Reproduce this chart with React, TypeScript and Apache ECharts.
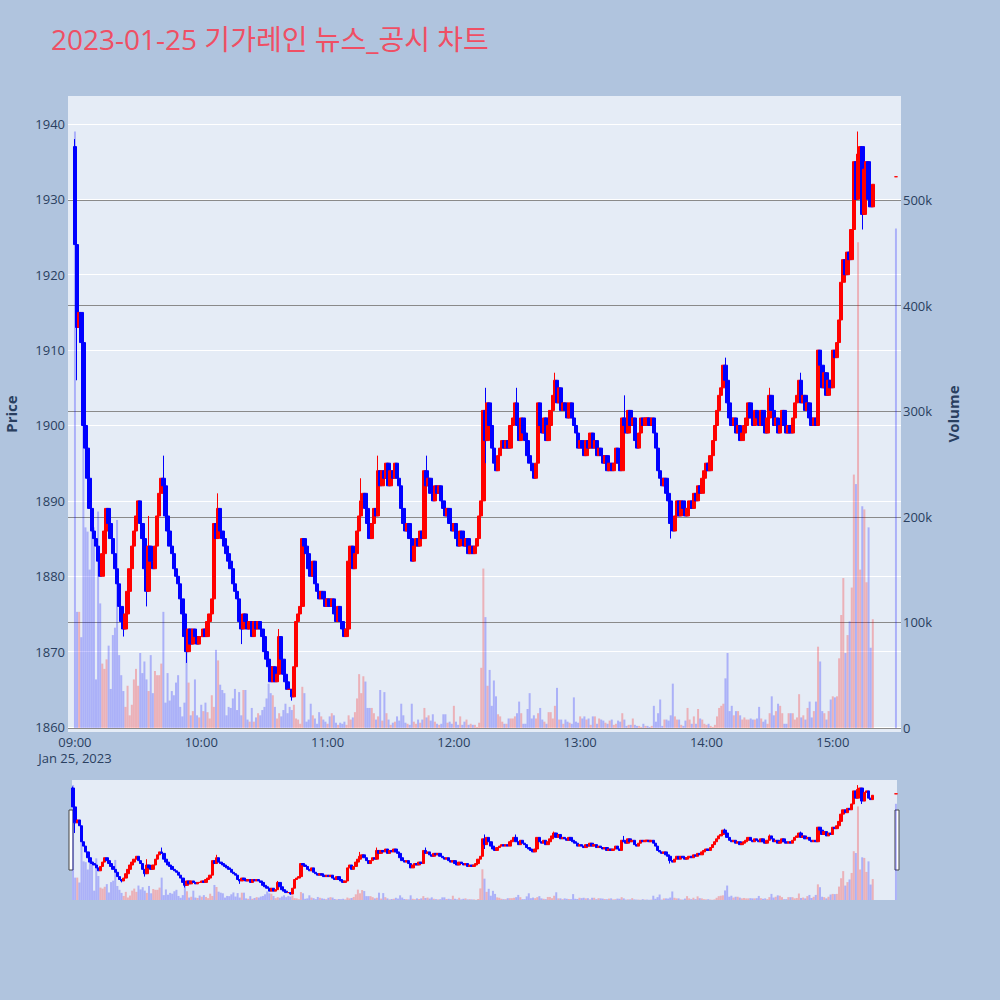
import React, { useEffect, useRef } from "react";
import * as echarts from "echarts";

const chartTitle = "2023-01-25 기가레인 뉴스_공시 차트";
const fontFamily = '"Open Sans", "Noto Sans CJK KR", sans-serif';

// 분 단위 (09:00 = 0)
const hourTicks = [0, 60, 120, 180, 240, 300, 360];
const hourLabels = ["09:00", "10:00", "11:00", "12:00", "13:00", "14:00", "15:00"];
const dateLabel = "Jan 25, 2023";
const priceTicks = [1860, 1870, 1880, 1890, 1900, 1910, 1920, 1930, 1940];
const volumeTicks = [0, 100000, 200000, 300000, 400000, 500000];

// 시가 (첫 봉), 이후 봉의 시가는 직전 종가
const firstOpen = 1937;

// 1분봉 종가 09:00 ~ 15:19
const closes = [
  1924, 1913, 1915, 1911, 1900, 1897, 1893, 1889, 1886, 1885,
  1884, 1882, 1880, 1883, 1886, 1889, 1887, 1885, 1883, 1881,
  1879, 1876, 1874, 1873, 1875, 1878, 1881, 1884, 1886, 1888,
  1890, 1887, 1885, 1881, 1878, 1884, 1882, 1881, 1884, 1888,
  1891, 1893, 1892, 1888, 1886, 1884, 1883, 1881, 1880, 1879,
  1877, 1875, 1872, 1870, 1873, 1871, 1873, 1872, 1871, 1872,
  1872, 1873, 1872, 1874, 1875, 1877, 1887, 1885, 1889, 1886,
  1885, 1884, 1883, 1882, 1881, 1879, 1878, 1877, 1874, 1873,
  1875, 1874, 1873, 1874, 1872, 1874, 1873, 1874, 1873, 1872,
  1870, 1869, 1868, 1866, 1868, 1866, 1867, 1872, 1869, 1867,
  1866, 1865, 1865, 1864, 1868, 1874, 1875, 1876, 1885, 1884,
  1883, 1881, 1880, 1882, 1879, 1878, 1877, 1878, 1877, 1876,
  1877, 1876, 1877, 1875, 1874, 1876, 1874, 1873, 1872, 1873,
  1882, 1884, 1881, 1883, 1886, 1888, 1890, 1891, 1889, 1887,
  1885, 1887, 1889, 1888, 1894, 1892, 1894, 1893, 1895, 1892,
  1894, 1893, 1895, 1893, 1892, 1889, 1887, 1886, 1887, 1885,
  1882, 1884, 1885, 1884, 1886, 1885, 1894, 1892, 1893, 1891,
  1890, 1892, 1891, 1892, 1890, 1889, 1888, 1889, 1887, 1886,
  1887, 1885, 1884, 1886, 1885, 1884, 1885, 1883, 1884, 1883,
  1884, 1885, 1888, 1890, 1902, 1898, 1903, 1900, 1897, 1895,
  1894, 1896, 1897, 1898, 1897, 1898, 1897, 1900, 1901, 1903,
  1900, 1898, 1901, 1899, 1898, 1896, 1895, 1894, 1893, 1895,
  1903, 1900, 1899, 1901, 1898, 1900, 1902, 1904, 1906, 1903,
  1905, 1902, 1903, 1902, 1901, 1903, 1901, 1900, 1899, 1897,
  1898, 1897, 1896, 1898, 1897, 1899, 1897, 1898, 1896, 1897,
  1896, 1895, 1896, 1894, 1895, 1894, 1895, 1897, 1895, 1894,
  1901, 1900, 1899, 1902, 1900, 1901, 1898, 1897, 1899, 1901,
  1900, 1901, 1901, 1900, 1901, 1899, 1897, 1894, 1893, 1892,
  1893, 1891, 1890, 1887, 1886, 1888, 1890, 1888, 1890, 1889,
  1888, 1889, 1890, 1889, 1891, 1890, 1892, 1891, 1893, 1894,
  1895, 1894, 1896, 1898, 1900, 1902, 1904, 1905, 1908, 1906,
  1903, 1901, 1900, 1901, 1899, 1900, 1898, 1899, 1900, 1901,
  1903, 1901, 1900, 1902, 1901, 1900, 1902, 1900, 1899, 1901,
  1904, 1902, 1900, 1901, 1899, 1900, 1902, 1900, 1899, 1900,
  1899, 1901, 1903, 1904, 1906, 1903, 1904, 1902, 1903, 1901,
  1900, 1901, 1900, 1910, 1908, 1905, 1907, 1904, 1906, 1905,
  1910, 1909, 1911, 1914, 1919, 1922, 1920, 1923, 1922, 1926,
  1935, 1930, 1936, 1937, 1928, 1934, 1935, 1930, 1929, 1932,
];

// 거래량 (천주)
const volumesK = [
  565, 110, 110, 86, 295, 190, 186, 150, 205, 190,
  46, 205, 118, 61, 56, 65, 78, 37, 88, 95,
  197, 69, 50, 35, 20, 40, 12, 22, 46, 56,
  40, 71, 52, 63, 46, 35, 69, 33, 54, 50,
  50, 61, 110, 24, 52, 26, 35, 31, 43, 50,
  20, 11, 24, 80, 43, 12, 16, 46, 12, 10,
  22, 16, 24, 15, 9, 31, 20, 74, 64, 41,
  36, 33, 12, 20, 19, 28, 37, 17, 34, 12,
  36, 36, 8, 6, 19, 6, 10, 14, 12, 17,
  20, 28, 42, 33, 31, 20, 9, 14, 11, 17,
  23, 14, 20, 17, 22, 9, 8, 4, 39, 33,
  6, 8, 23, 12, 9, 4, 15, 11, 8, 6,
  4, 11, 14, 12, 5, 3, 5, 4, 6, 3,
  12, 8, 10, 15, 28, 51, 33, 49, 44, 19,
  19, 19, 14, 8, 11, 36, 7, 34, 14, 8,
  3, 5, 6, 11, 7, 23, 12, 5, 4, 3,
  23, 6, 4, 8, 5, 8, 19, 10, 12, 7,
  13, 6, 4, 3, 4, 13, 13, 5, 6, 4,
  21, 6, 3, 11, 3, 6, 8, 3, 4, 3,
  3, 1, 5, 57, 151, 105, 40, 55, 21, 45,
  30, 13, 11, 6, 4, 4, 9, 9, 9, 11,
  14, 25, 14, 4, 4, 18, 33, 9, 12, 9,
  14, 19, 8, 6, 4, 15, 15, 9, 21, 38,
  8, 8, 4, 8, 6, 5, 4, 29, 6, 5,
  11, 9, 11, 8, 9, 3, 11, 11, 4, 9,
  8, 7, 5, 4, 7, 8, 3, 4, 7, 6,
  14, 8, 2, 3, 3, 9, 3, 2, 2, 1,
  4, 2, 2, 1, 2, 21, 6, 14, 27, 2,
  8, 8, 7, 12, 42, 11, 8, 8, 3, 2,
  7, 19, 8, 4, 11, 4, 18, 9, 8, 4,
  3, 4, 2, 1, 3, 11, 19, 21, 23, 47,
  71, 16, 21, 12, 16, 16, 12, 8, 10, 8,
  8, 9, 8, 8, 9, 20, 9, 6, 8, 4,
  14, 30, 12, 16, 23, 21, 14, 4, 4, 14,
  14, 14, 8, 10, 32, 10, 12, 8, 19, 25,
  10, 16, 25, 77, 63, 16, 14, 8, 16, 27,
  30, 29, 30, 66, 107, 142, 71, 88, 101, 133,
  240, 231, 460, 150, 210, 207, 138, 190, 76, 103,
];

// 꼬리 [분, 가격]
const wickHighs = [
  [0, 1938], [1, 1931], [35, 1888], [42, 1896], [68, 1891], [97, 1873],
  [136, 1893], [144, 1896], [167, 1896], [195, 1905], [210, 1905],
  [228, 1907], [261, 1904], [264, 1902], [309, 1909], [330, 1905],
  [345, 1907], [372, 1939],
];
const wickLows = [
  [1, 1906], [23, 1872], [34, 1876], [53, 1868.5], [79, 1871],
  [103, 1863.5], [195, 1895], [283, 1885], [374, 1926],
];

// 15:30 동시호가
const auctionMinute = 390;
const auctionPrice = 1933;
const auctionVolumeK = 473;

const UP = "#FF0000";
const DOWN = "#0000FF";
const UP_VOL = "rgba(255,0,0,0.25)";
const DOWN_VOL = "rgba(0,0,255,0.25)";
const TEXT = "#2a3f5f";

function buildData() {
  const candles = closes.map((c, i) => {
    const o = i === 0 ? firstOpen : closes[i - 1];
    return [i, o, c, Math.min(o, c), Math.max(o, c)];
  });
  wickHighs.forEach(([m, h]) => (candles[m][4] = h));
  wickLows.forEach(([m, l]) => (candles[m][3] = l));
  candles.push([auctionMinute, auctionPrice, auctionPrice, auctionPrice, auctionPrice]);

  const vols = volumesK.concat([auctionVolumeK]);
  const bars = candles.map((k, i) => ({
    value: [k[0], vols[i] * 1000],
    itemStyle: { color: k[2] > k[1] ? UP_VOL : DOWN_VOL },
  }));
  return { candles, bars };
}

const App = () => {
  const chartRef = useRef(null);

  useEffect(() => {
    const myChart = echarts.init(chartRef.current, null, { renderer: "svg" });
    const { candles, bars } = buildData();

    const candleStyle = {
      color: UP,
      color0: DOWN,
      borderColor: UP,
      borderColor0: DOWN,
      borderWidth: 1,
    };

    const option = {
      animation: false,
      backgroundColor: "#B0C4DE",
      textStyle: { fontFamily },
      title: {
        text: chartTitle,
        left: 46,
        top: 20,
        textStyle: { color: "#EF4F64", fontSize: 28, fontWeight: "normal", fontFamily },
      },
      grid: [
        {
          left: 68, top: 96, width: 833, height: 636,
          show: true, backgroundColor: "#E5ECF6", borderWidth: 0,
          containLabel: false, outerBoundsMode: "none",
        },
        {
          left: 72, top: 780, width: 825, height: 120,
          show: true, backgroundColor: "#E5ECF6", borderWidth: 0,
          containLabel: false, outerBoundsMode: "none",
        },
      ],
      xAxis: [
        {
          type: "value",
          gridIndex: 0,
          min: -3.3,
          max: 392.4,
          axisLine: { show: false },
          axisTick: { show: false, customValues: hourTicks },
          splitLine: { show: false },
          axisLabel: {
            customValues: hourTicks,
            color: TEXT,
            fontSize: 13,
            lineHeight: 16,
            margin: 2,
            formatter: (v) => {
              const i = hourTicks.indexOf(Math.round(v));
              if (i < 0) return "";
              return i === 0 ? hourLabels[i] + "\n" + dateLabel : hourLabels[i];
            },
          },
        },
        {
          type: "value",
          gridIndex: 1,
          min: -0.5,
          max: 390.5,
          show: false,
          splitLine: { show: false },
        },
      ],
      yAxis: [
        {
          type: "value",
          gridIndex: 0,
          position: "left",
          min: 1859.34,
          max: 1943.71,
          name: "Price",
          nameLocation: "middle",
          nameRotate: 90,
          nameGap: 50,
          nameTextStyle: { color: TEXT, fontSize: 15, fontWeight: "bold" },
          axisLine: { show: false },
          axisTick: { show: false, customValues: priceTicks },
          axisLabel: {
            customValues: priceTicks,
            color: TEXT,
            fontSize: 13,
            margin: 3,
            formatter: (v) => String(Math.round(v)),
          },
          splitLine: { show: true, lineStyle: { color: "#FFFFFF", width: 1 } },
        },
        {
          type: "value",
          gridIndex: 0,
          position: "right",
          min: -3790,
          max: 598500,
          name: "Volume",
          nameLocation: "middle",
          nameRotate: 90,
          nameGap: 44,
          nameTextStyle: { color: TEXT, fontSize: 15, fontWeight: "bold" },
          axisLine: { show: false },
          axisTick: { show: false, customValues: volumeTicks },
          axisLabel: {
            customValues: volumeTicks,
            color: TEXT,
            fontSize: 13,
            margin: 2,
            formatter: (v) => (v === 0 ? "0" : Math.round(v / 1000) + "k"),
          },
          splitLine: { show: true, lineStyle: { color: "#8A8A8A", width: 1 } },
        },
        { type: "value", gridIndex: 1, min: 1859.9, max: 1942.5, show: false, splitLine: { show: false } },
        { type: "value", gridIndex: 1, min: 0, max: 590000, show: false, splitLine: { show: false } },
      ],
      series: [
        {
          type: "bar",
          xAxisIndex: 0,
          yAxisIndex: 1,
          barWidth: 2,
          data: bars,
        },
        {
          type: "candlestick",
          xAxisIndex: 0,
          yAxisIndex: 0,
          barWidth: 4,
          encode: { x: 0, y: [1, 2, 3, 4] },
          itemStyle: candleStyle,
          data: candles,
        },
        {
          type: "bar",
          xAxisIndex: 1,
          yAxisIndex: 3,
          barWidth: 2,
          data: bars,
        },
        {
          type: "candlestick",
          xAxisIndex: 1,
          yAxisIndex: 2,
          barWidth: 3,
          encode: { x: 0, y: [1, 2, 3, 4] },
          itemStyle: candleStyle,
          data: candles,
        },
      ],
      graphic: [
        {
          type: "rect",
          shape: { x: 69, y: 810, width: 4, height: 60 },
          style: { fill: "#FFFFFF", stroke: "#444444", lineWidth: 1 },
        },
        {
          type: "rect",
          shape: { x: 895, y: 810, width: 4, height: 60 },
          style: { fill: "#FFFFFF", stroke: "#444444", lineWidth: 1 },
        },
      ],
    };

    myChart.setOption(option);

    return () => {
      myChart.dispose();
    };
  }, []);

  return (
    <div
      ref={chartRef}
      style={{ position: "fixed", left: 0, top: 0, width: "1000px", height: "1000px" }}
    ></div>
  );
};

export default App;
